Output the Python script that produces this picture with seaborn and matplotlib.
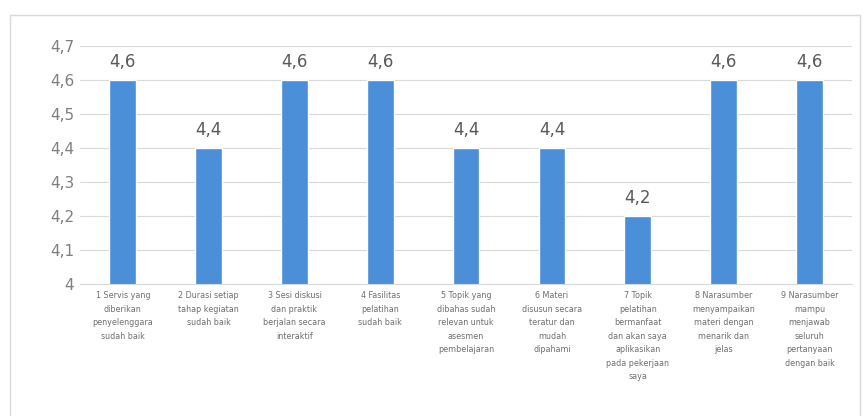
import matplotlib
matplotlib.use("Agg")
import matplotlib.pyplot as plt
import seaborn as sns
import pandas as pd
from matplotlib.patches import Rectangle

categories = [
    "1 Servis yang\ndiberikan\npenyelenggara\nsudah baik",
    "2 Durasi setiap\ntahap kegiatan\nsudah baik",
    "3 Sesi diskusi\ndan praktik\nberjalan secara\ninteraktif",
    "4 Fasilitas\npelatihan\nsudah baik",
    "5 Topik yang\ndibahas sudah\nrelevan untuk\nasesmen\npembelajaran",
    "6 Materi\ndisusun secara\nteratur dan\nmudah\ndipahami",
    "7 Topik\npelatihan\nbermanfaat\ndan akan saya\naplikasikan\npada pekerjaan\nsaya",
    "8 Narasumber\nmenyampaikan\nmateri dengan\nmenarik dan\njelas",
    "9 Narasumber\nmampu\nmenjawab\nseluruh\npertanyaan\ndengan baik",
]
values = [4.6, 4.4, 4.6, 4.6, 4.4, 4.4, 4.2, 4.6, 4.6]
yticks = [4.0, 4.1, 4.2, 4.3, 4.4, 4.5, 4.6, 4.7]
ytick_labels = ["4", "4,1", "4,2", "4,3", "4,4", "4,5", "4,6", "4,7"]

df = pd.DataFrame({"cat": categories, "val": values})

sns.set_style("white")
plt.rcParams["font.family"] = ["DejaVu Sans"]

fig = plt.figure(figsize=(8.68, 4.16), dpi=100)
ax = fig.add_axes([0.092, 0.317, 0.89, 0.572])

sns.barplot(data=df, x="cat", y="val", color="#4a8fd8", saturation=1,
            width=0.31, ax=ax)

ax.set_ylim(4.0, 4.7)
ax.set_yticks(yticks)
ax.set_yticklabels(ytick_labels, fontsize=11, color="#7f7f7f")
ax.set_xlabel("")
ax.set_ylabel("")
ax.yaxis.grid(True, color="#d9d9d9", linewidth=0.8)
ax.set_axisbelow(True)
for s in ["top", "right", "left"]:
    ax.spines[s].set_visible(False)
ax.spines["bottom"].set_color("#d9d9d9")
ax.tick_params(axis="both", length=0, pad=4)
ax.tick_params(axis="x", pad=5)
for lbl in ax.get_xticklabels():
    lbl.set_fontsize(5.8)
    lbl.set_color("#6f6f6f")
    lbl.set_linespacing(1.65)
    lbl.set_horizontalalignment("center")
    lbl.set_verticalalignment("top")

for i, v in enumerate(values):
    ax.text(i, v + 0.028, ("%.1f" % v).replace(".", ","), ha="center",
            va="bottom", fontsize=12, color="#595959")

fig.patches.append(Rectangle((10 / 868, -0.01), 850 / 868, 1 - 15 / 416 + 0.01,
                             transform=fig.transFigure, fill=False,
                             edgecolor="#d9d9d9", linewidth=1.0))

fig.savefig("out.png", dpi=100)
